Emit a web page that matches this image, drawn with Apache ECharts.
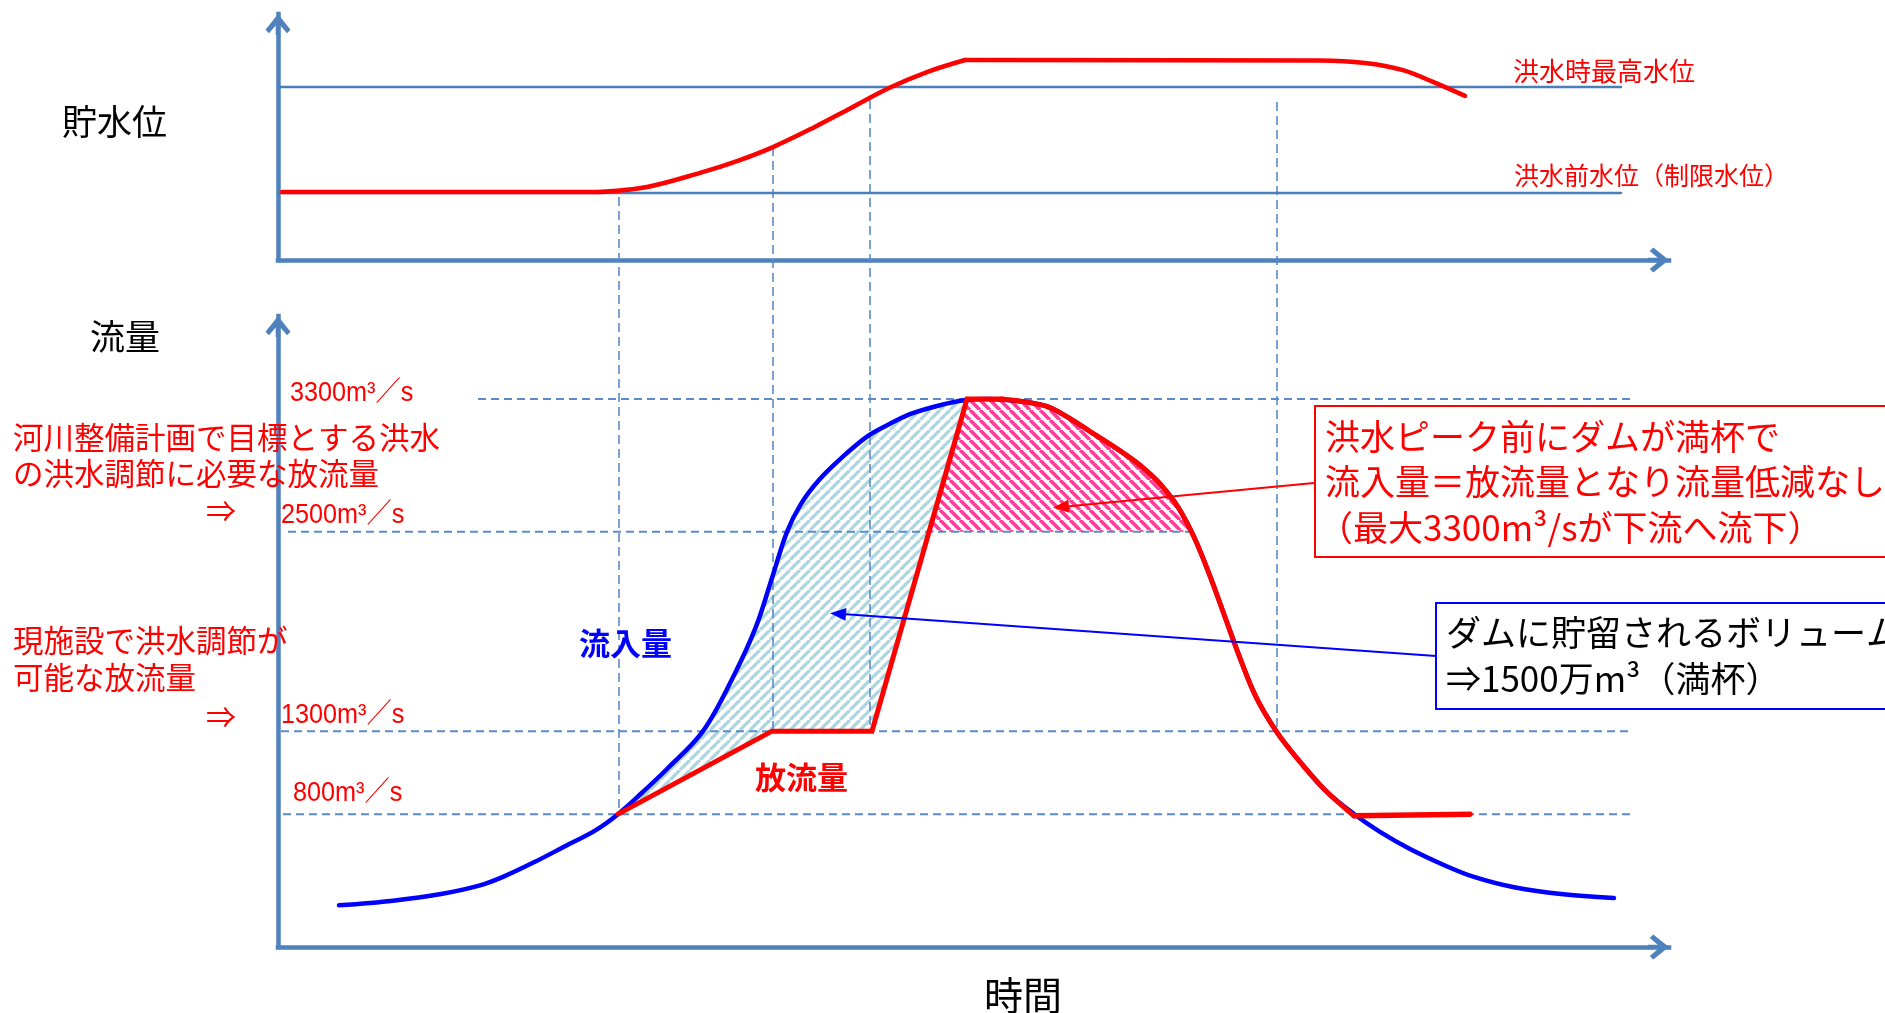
<!DOCTYPE html>
<html lang="ja">
<head>
<meta charset="utf-8">
<title>洪水調節の流量と貯水位</title>
<script src="https://cdn.jsdelivr.net/npm/echarts@6.0.0/dist/echarts.min.js"></script>
<style>
  html, body { margin: 0; padding: 0; background: #ffffff; }
  #chart { width: 1885px; height: 1013px; }
</style>
</head>
<body>
<div id="chart"></div>
<script>
// ---------------- data ----------------
// time runs left to right in arbitrary units; level in arbitrary units; flow in m3/s
const timeMax = 69.55;
const levelMax = 100;
const flowMax = 3800;

// reservoir level (upper panel)
const levelMaxFlood = 70.3;       // 洪水時最高水位
const levelBeforeFlood = 27.2;    // 洪水前水位（制限水位）
const levelLineEnd = 67.15;
const levelFlat = [[0.2, 27.6], [16.0, 27.6]];
const levelRise = [[16.0, 27.6], [18.45, 29.7], [21.1, 35.4], [22.95, 40.2], [24.75, 45.9],
                   [26.75, 53.7], [28.65, 61.8], [30.55, 69.9], [32.45, 76.4], [34.35, 81.3]];
const levelHold = [[34.35, 81.3], [52.1, 81.1], [54.35, 80.1], [56.25, 77.2], [57.75, 72.4], [59.35, 66.7]];

// labelled discharge levels
const flowLevels = [3300, 2500, 1300, 800];
const flowLineStart = [10.0, 0.5, 0.15, 0.25];
const flowLineEnd = [67.75, 45.6, 67.75, 67.75];

// inflow hydrograph (流入量)
const inflow = [
  [3.05, 251], [5.75, 279], [8.15, 319], [10.1, 371], [11.25, 422], [12.85, 513], [14.4, 610],
  [15.85, 701], [17.0, 800], [18.2, 929], [19.45, 1072], [21.25, 1300], [22.8, 1637], [23.9, 1929],
  [24.7, 2222], [25.45, 2500], [26.15, 2669], [27.05, 2813], [28.15, 2943], [29.5, 3078],
  [30.6, 3151], [31.7, 3213], [33.05, 3261], [34.3, 3292], [35.5, 3300], [36.85, 3290],
  [38.4, 3258], [39.55, 3186], [40.65, 3101], [41.75, 3017], [42.9, 2921], [43.6, 2849],
  [44.2, 2776], [45.0, 2650], [45.8, 2469], [46.6, 2234], [47.35, 1987], [48.1, 1740],
  [48.9, 1506], [49.9, 1301], [50.9, 1144], [52.35, 945], [53.8, 801], [55.1, 693],
  [56.6, 590], [58.4, 488], [59.8, 422], [61.75, 361], [64.15, 319], [66.8, 295]
];

// outflow (放流量): control ramp, then falling limb, then constant release
const outflowRamp = [[17.0, 800], [24.7, 1300], [29.7, 1300], [34.45, 3300], [36.2, 3300]];
const outflowFall = [[36.2, 3300], [38.4, 3257], [39.55, 3186], [40.65, 3101], [41.75, 3017],
                     [42.9, 2921], [43.6, 2849], [44.2, 2776], [45.0, 2650], [45.8, 2469],
                     [46.6, 2234], [47.35, 1987], [48.1, 1740], [48.9, 1506], [49.9, 1301],
                     [50.9, 1144], [52.35, 945], [53.8, 790]];
const outflowTail = [[53.8, 790], [59.6, 800]];

// vertical guide lines linking both panels
const guideTime = [17.05, 24.75, 29.6, 49.95];
const guideTopLevel = [25.6, 45.9, 65.0, 64.2];
const guideBottomFlow = [800, 1300, 1300, 1300];

// points the callout arrows aim at
const arrowTargetPeak = [38.75, 2645];
const arrowTargetStorage = [27.6, 2010];

// ---------------- styles ----------------
const AXIS_BLUE = '#4f81bd';
const GUIDE_BLUE = '#5b8bc8';
const JP = '"Noto Sans CJK JP", "Noto Sans CJK SC", sans-serif';

function hatchPattern(color, step, width, rising) {
  const c = document.createElement('canvas');
  c.width = step; c.height = step;
  const g = c.getContext('2d');
  g.strokeStyle = color; g.lineWidth = width;
  g.beginPath();
  for (let k = -1; k <= 1; k++) {
    if (rising) { g.moveTo(k * step, step); g.lineTo(k * step + step, 0); }
    else { g.moveTo(k * step, 0); g.lineTo(k * step + step, step); }
  }
  g.stroke();
  return { image: c, repeat: 'repeat' };
}

// part of a polyline lying at or above a level, with the crossings interpolated
function abovePart(path, level) {
  const out = [];
  for (let i = 0; i < path.length; i++) {
    const p = path[i];
    if (i > 0) {
      const q = path[i - 1];
      if ((q[1] - level) * (p[1] - level) < 0) {
        const f = (level - q[1]) / (p[1] - q[1]);
        out.push([q[0] + f * (p[0] - q[0]), level]);
      }
    }
    if (p[1] >= level) out.push(p);
  }
  return out;
}

const outflowPath = outflowRamp.concat(outflowFall.slice(1));
const peakArea = abovePart(outflowPath, flowLevels[1]);
const rampPeak = outflowRamp[3];
const storageArea = inflow
  .filter(p => p[0] >= outflowRamp[0][0] && p[0] <= rampPeak[0])
  .concat(outflowRamp.slice(0, 4).reverse());

function polygonSeries(points, fill) {
  return {
    type: 'custom', xAxisIndex: 1, yAxisIndex: 1, z: 1, silent: true, clip: false,
    data: [[0, 0]],
    renderItem: function (params, api) {
      return {
        type: 'polygon',
        shape: { points: points.map(p => api.coord(p)) },
        style: { fill: fill, stroke: null }
      };
    }
  };
}

function line(data, grid, color, width, extra) {
  return Object.assign({
    type: 'line', xAxisIndex: grid, yAxisIndex: grid, data: data, symbol: 'none',
    silent: true, z: 5,
    lineStyle: { color: color, width: width, cap: 'round', join: 'round' }
  }, extra || {});
}

const arrowHead = 'path://M12,0 L24,15 L20.6,18.4 L12,8.2 L3.4,18.4 L0,15 Z M9.8,4 L14.2,4 L14.2,20 L9.8,20 Z';

function axisLine() {
  return {
    show: true, symbol: ['none', arrowHead], symbolSize: [25, 21], symbolOffset: [0, -10.5],
    lineStyle: { color: AXIS_BLUE, width: 4.5, cap: 'square' }
  };
}
function valueAxis(grid, max) {
  return {
    type: 'value', gridIndex: grid, min: 0, max: max,
    axisLine: axisLine(), axisTick: { show: false }, axisLabel: { show: false },
    splitLine: { show: false }
  };
}

const series = [
  // upper panel: reference levels and reservoir level
  line([[0, levelMaxFlood], [levelLineEnd, levelMaxFlood]], 0, '#4a7ebb', 2.5, { z: 3 }),
  line([[0, levelBeforeFlood], [levelLineEnd, levelBeforeFlood]], 0, '#4a7ebb', 2.5, { z: 3 }),
  line(levelFlat, 0, '#ff0000', 4.5),
  line(levelRise, 0, '#ff0000', 4.5, { smooth: 0.35 }),
  line(levelHold, 0, '#ff0000', 4.5, { smooth: 0.35 }),

  // lower panel: hatched volumes
  polygonSeries(storageArea, hatchPattern('#a9d6e0', 10, 3.2, true)),
  polygonSeries(peakArea, hatchPattern('#ff3d99', 10, 3.6, false))
];

// dashed discharge levels
flowLevels.forEach((v, i) => {
  series.push(line([[flowLineStart[i], v], [flowLineEnd[i], v]], 1, GUIDE_BLUE, 2,
    { z: 3, lineStyle: { color: GUIDE_BLUE, width: 2, type: [8, 5] } }));
});

series.push(line(inflow, 1, '#0000ff', 4.5, { smooth: 0.35, z: 5 }));
series.push(line(outflowRamp, 1, '#ff0000', 5, { z: 6, lineStyle: { color: '#ff0000', width: 5, cap: 'round', join: 'miter' } }));
series.push(line(outflowFall, 1, '#ff0000', 5, { smooth: 0.35, z: 6 }));
series.push(line(outflowTail, 1, '#ff0000', 5.5, { z: 6 }));

const option = {
  animation: false,
  backgroundColor: '#ffffff',
  grid: [
    { left: 278, right: 216, top: 14, height: 246 },
    { left: 278, right: 216, top: 316, height: 631 }
  ],
  xAxis: [valueAxis(0, timeMax), valueAxis(1, timeMax)],
  yAxis: [valueAxis(0, levelMax), valueAxis(1, flowMax)],
  series: series
};

const chart = echarts.init(document.getElementById('chart'), null, { renderer: 'canvas' });
chart.setOption(option);

// ---------------- annotations ----------------
const px0 = p => chart.convertToPixel({ gridIndex: 0 }, p);
const px1 = p => chart.convertToPixel({ gridIndex: 1 }, p);

function txt(text, x, y, font, color, extra) {
  return Object.assign({
    type: 'text', x: x, y: y, z: 20, silent: true,
    style: { text: text, font: font, fill: color, textAlign: 'left', textVerticalAlign: 'middle' }
  }, extra || {});
}
function arrow(from, to, color) {
  const dx = to[0] - from[0], dy = to[1] - from[1];
  const len = Math.hypot(dx, dy), ux = dx / len, uy = dy / len;
  const hl = 16, hw = 6.5;
  const bx = to[0] - ux * hl, by = to[1] - uy * hl;
  return [
    { type: 'line', z: 20, silent: true, shape: { x1: from[0], y1: from[1], x2: bx, y2: by },
      style: { stroke: color, lineWidth: 2 } },
    { type: 'polygon', z: 20, silent: true,
      shape: { points: [to, [bx - uy * hw, by + ux * hw], [bx + uy * hw, by - ux * hw]] },
      style: { fill: color } }
  ];
}

const flowY = flowLevels.map(v => px1([0, v])[1]);
const yMaxFlood = px0([0, levelMaxFlood])[1];
const yBefore = px0([0, levelBeforeFlood])[1];
const numFont = '28px "Liberation Sans", ' + JP;

const graphics = [];

// guides spanning both panels
guideTime.forEach((t, i) => {
  const a = px0([t, guideTopLevel[i]]);
  const b = px1([t, guideBottomFlow[i]]);
  graphics.push({ type: 'line', z: 3, silent: true,
    shape: { x1: a[0], y1: a[1], x2: b[0], y2: b[1] },
    style: { stroke: GUIDE_BLUE, lineWidth: 1.6, lineDash: [9, 5] } });
});

// panel titles
graphics.push(txt('貯水位', 62, 122, '35px ' + JP, '#000000'));
graphics.push(txt('流量', 90, 337, '35px ' + JP, '#000000'));
graphics.push(txt('時間', 1023, 995, '39px ' + JP, '#000000', {
  style: { text: '時間', font: '39px ' + JP, fill: '#000000', textAlign: 'center', textVerticalAlign: 'middle' } }));

// level labels
graphics.push(txt('洪水時最高水位', 1513, yMaxFlood - 16, '26px ' + JP, '#ff0000'));
graphics.push(txt('洪水前水位（制限水位）', 1514, yBefore - 18, '25px ' + JP, '#ff0000'));

// discharge labels
const flowLabelX = [290, 281, 281, 293];
const flowLabelDy = [-6, -17, -16, -21];
flowLevels.forEach((v, i) => {
  graphics.push(txt(v + 'm³／s', flowLabelX[i], flowY[i] + flowLabelDy[i], numFont, '#ff0000', { scaleX: 0.9 }));
});
graphics.push(txt('⇒', 206, flowY[1] - 21, '30px ' + JP, '#ff0000'));
graphics.push(txt('⇒', 206, flowY[2] - 15, '30px ' + JP, '#ff0000'));
graphics.push(txt('河川整備計画で目標とする洪水', 13, flowY[1] - 94, '30.5px ' + JP, '#ff0000'));
graphics.push(txt('の洪水調節に必要な放流量', 13, flowY[1] - 58, '30.5px ' + JP, '#ff0000'));
graphics.push(txt('現施設で洪水調節が', 13, flowY[2] - 91, '30.5px ' + JP, '#ff0000'));
graphics.push(txt('可能な放流量', 13, flowY[2] - 54, '30.5px ' + JP, '#ff0000'));

// series names
graphics.push(txt('流入量', 579, 643, 'bold 31px ' + JP, '#0000ff'));
graphics.push(txt('放流量', 755, 777, 'bold 31px ' + JP, '#ff0000'));

// callouts
graphics.push({ type: 'rect', z: 19, silent: true, shape: { x: 1315, y: 406, width: 700, height: 151 },
  style: { fill: '#ffffff', stroke: '#ff0000', lineWidth: 2 } });
graphics.push(txt('洪水ピーク前にダムが満杯で', 1325, 437, '35px ' + JP, '#ff0000'));
graphics.push(txt('流入量＝放流量となり流量低減なし', 1325, 482, '35px ' + JP, '#ff0000'));
graphics.push(txt('（最大3300m³/sが下流へ流下）', 1318, 528, '35px ' + JP, '#ff0000'));
arrow([1314, 483], px1(arrowTargetPeak), '#ff0000').forEach(g => graphics.push(g));

graphics.push({ type: 'rect', z: 19, silent: true, shape: { x: 1436, y: 603, width: 600, height: 106 },
  style: { fill: '#ffffff', stroke: '#0000ff', lineWidth: 2 } });
graphics.push(txt('ダムに貯留されるボリューム', 1446, 633, '35px ' + JP, '#000000'));
graphics.push(txt('⇒1500万m³（満杯）', 1446, 679, '35px ' + JP, '#000000'));
arrow([1436, 656], px1(arrowTargetStorage), '#0000ff').forEach(g => graphics.push(g));

chart.setOption({ graphic: { elements: graphics } });
</script>
</body>
</html>
